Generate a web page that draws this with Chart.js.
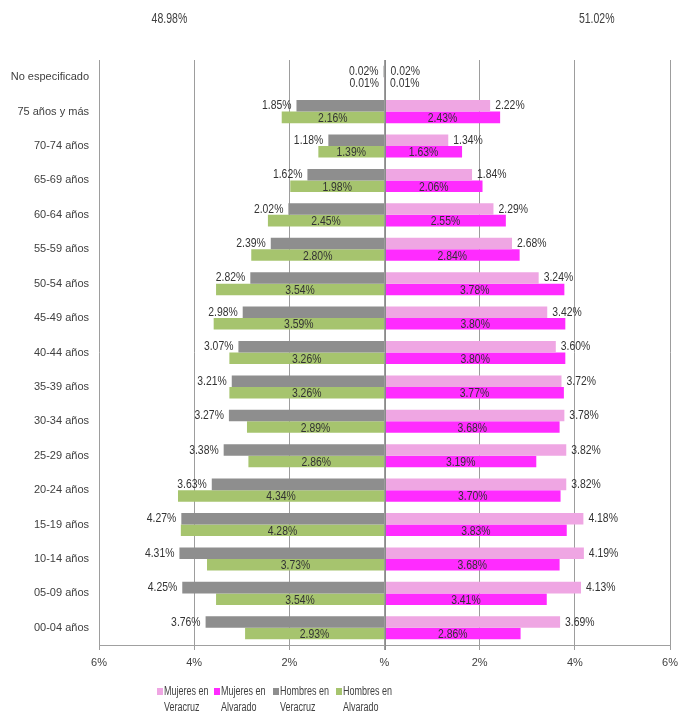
<!DOCTYPE html>
<html>
<head>
<meta charset="utf-8">
<script src="https://cdn.jsdelivr.net/npm/chart.js@4/dist/chart.umd.min.js"></script>
<style>
  html, body { margin: 0; padding: 0; background: #fff; }
  #wrap { position: relative; width: 678px; height: 715px; overflow: hidden; }
  .li { position: absolute; top: 683px; display: flex; align-items: flex-start;
    font-family: 'Liberation Sans', Arial, sans-serif; font-size: 12.5px; color: #404040; line-height: 16px; }
  .sw { width: 6px; height: 7px; margin: 5px 1px 0 0; flex: none; }
  .tx { transform: scaleX(0.72); transform-origin: 0 0; white-space: nowrap; }
</style>
</head>
<body>
<div id="wrap">
  <canvas id="c" width="678" height="715"></canvas>
</div>
<script>
const categories = ['No especificado','75 años y más','70-74 años','65-69 años','60-64 años','55-59 años','50-54 años','45-49 años','40-44 años','35-39 años','30-34 años','25-29 años','20-24 años','15-19 años','10-14 años','05-09 años','00-04 años'];
const mujeresVeracruz = [0.02, 2.22, 1.34, 1.84, 2.29, 2.68, 3.24, 3.42, 3.60, 3.72, 3.78, 3.82, 3.82, 4.18, 4.19, 4.13, 3.69];
const mujeresAlvarado = [0.01, 2.43, 1.63, 2.06, 2.55, 2.84, 3.78, 3.80, 3.80, 3.77, 3.68, 3.19, 3.70, 3.83, 3.68, 3.41, 2.86];
const hombresVeracruz = [0.02, 1.85, 1.18, 1.62, 2.02, 2.39, 2.82, 2.98, 3.07, 3.21, 3.27, 3.38, 3.63, 4.27, 4.31, 4.25, 3.76];
const hombresAlvarado = [0.01, 2.16, 1.39, 1.98, 2.45, 2.80, 3.54, 3.59, 3.26, 3.26, 2.89, 2.86, 4.34, 4.28, 3.73, 3.54, 2.93];
const tickLabels = ['6%', '4%', '2%', '%', '2%', '4%', '6%'];
const totals = ['48.98%', '51.02%'];
const seriesNames = [['Mujeres en', 'Veracruz'], ['Mujeres en', 'Alvarado'], ['Hombres en', 'Veracruz'], ['Hombres en', 'Alvarado']];

const COLORS = ['#EFA6E3', '#FF2BFF', '#8E8E8E', '#A6C46E'];
const FONT = "'Liberation Sans', Arial, sans-serif";
const TEXT = '#404040';
const LABEL = '#333333';

const datasets = [
  { label: seriesNames[0].join(' '), data: mujeresVeracruz, stack: 'V', backgroundColor: COLORS[0], kind: 'right-out' },
  { label: seriesNames[1].join(' '), data: mujeresAlvarado, stack: 'A', backgroundColor: COLORS[1], kind: 'center' },
  { label: seriesNames[2].join(' '), data: hombresVeracruz.map(v => -v), stack: 'V', backgroundColor: COLORS[2], kind: 'left-out' },
  { label: seriesNames[3].join(' '), data: hombresAlvarado.map(v => -v), stack: 'A', backgroundColor: COLORS[3], kind: 'center' }
];
datasets.forEach(d => { d.categoryPercentage = 0.67; d.barPercentage = 1.0; d.borderWidth = 0; });

// draw narrow-looking text (condensed horizontally)
function narrowText(ctx, txt, x, y, align, sx) {
  const w = ctx.measureText(txt).width * sx;
  let left = x;
  if (align === 'center') left = x - w / 2;
  else if (align === 'right') left = x - w;
  ctx.save();
  ctx.translate(left, y);
  ctx.scale(sx, 1);
  ctx.textAlign = 'left';
  ctx.fillText(txt, 0, 0);
  ctx.restore();
}

const labelPlugin = {
  id: 'valueLabels',
  afterDatasetsDraw(chart) {
    const ctx = chart.ctx;
    const SX = 0.8;
    ctx.save();
    ctx.font = '13px ' + FONT;
    ctx.fillStyle = LABEL;
    ctx.textBaseline = 'middle';
    chart.data.datasets.forEach((ds, di) => {
      const meta = chart.getDatasetMeta(di);
      meta.data.forEach((bar, i) => {
        const v = Math.abs(ds.data[i]);
        const txt = v.toFixed(2) + '%';
        const w = Math.abs(bar.x - bar.base);
        const neg = ds.data[i] < 0;
        let kind = ds.kind;
        if (kind === 'center' && w < ctx.measureText(txt).width * SX) kind = neg ? 'left-out' : 'right-out';
        if (kind === 'center') {
          narrowText(ctx, txt, (bar.x + bar.base) / 2, bar.y + 1, 'center', SX);
        } else if (kind === 'left-out') {
          narrowText(ctx, txt, Math.min(bar.x, bar.base) - 5, bar.y, 'right', SX);
        } else {
          narrowText(ctx, txt, Math.max(bar.x, bar.base) + 5, bar.y, 'left', SX);
        }
      });
    });
    const xs = chart.scales.x;
    ctx.font = '15px ' + FONT;
    ctx.fillStyle = TEXT;
    narrowText(ctx, totals[0], xs.getPixelForValue(-4.52), 19, 'center', 0.7);
    narrowText(ctx, totals[1], xs.getPixelForValue(4.46), 19, 'center', 0.7);
    // vertical axis line at zero, drawn over bars
    const x0 = Math.round(xs.getPixelForValue(0)) + 0.5;
    ctx.strokeStyle = '#8A8A8A';
    ctx.lineWidth = 1;
    ctx.beginPath();
    ctx.moveTo(x0, chart.chartArea.top);
    ctx.lineTo(x0, chart.chartArea.bottom + 5);
    ctx.stroke();
    ctx.restore();
  }
};

new Chart(document.getElementById('c'), {
  type: 'bar',
  data: { labels: categories, datasets },
  options: {
    indexAxis: 'y',
    responsive: false,
    animation: false,
    layout: { padding: { left: 0, top: 60, right: 8, bottom: 45 } },
    plugins: { legend: { display: false }, tooltip: { enabled: false } },
    scales: {
      x: {
        stacked: true, min: -6, max: 6, z: 1,
        ticks: { stepSize: 2, color: TEXT, font: { family: FONT, size: 11 }, padding: 6, maxRotation: 0,
          callback: (v) => tickLabels[Math.round((v + 6) / 2)] },
        grid: { color: 'rgba(140,140,140,0.85)', lineWidth: 1, tickLength: 5, drawTicks: true },
        border: { color: '#A0A0A0' },
        afterFit: (s) => { s.height = 25; s.paddingLeft = 0; s.paddingRight = 0; }
      },
      y: {
        ticks: { color: TEXT, font: { family: FONT, size: 11 }, padding: 10, autoSkip: false },
        grid: { display: false, drawTicks: false },
        border: { display: false },
        afterFit: (s) => { s.width = 99; }
      }
    }
  },
  plugins: [labelPlugin]
});

const wrap = document.getElementById('wrap');
const legendLeft = [157, 214, 273, 336];
seriesNames.forEach((n, i) => {
  const el = document.createElement('div');
  el.className = 'li';
  el.style.left = legendLeft[i] + 'px';
  el.innerHTML = '<div class="sw" style="background:' + COLORS[i] + '"></div><div class="tx">' + n[0] + '<br>' + n[1] + '</div>';
  wrap.appendChild(el);
});
</script>
</body>
</html>
